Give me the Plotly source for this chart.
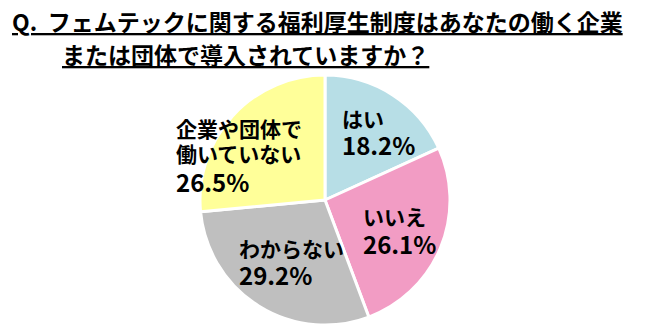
import plotly.graph_objects as go

W, H = 649, 335

categories = ["はい", "いいえ", "わからない", "企業や団体で働いていない"]
label_lines = [["はい"], ["いいえ"], ["わからない"], ["企業や団体で", "働いていない"]]
values = [18.2, 26.1, 29.2, 26.5]
colors = ["#B7DEE6", "#F29CC4", "#BFBFBF", "#FFFF99"]
title_lines = ["Q.  フェムテックに関する福利厚生制度はあなたの働く企業",
               "または団体で導入されていますか？"]

FONT = "Noto Sans CJK JP"

def px(x):
    return x / W

def py(y):
    return 1 - y / H

fig = go.Figure(go.Pie(
    labels=categories,
    values=values,
    sort=False,
    direction="clockwise",
    rotation=0,
    marker=dict(colors=colors, line=dict(color="white", width=3)),
    textinfo="none",
    hoverinfo="label+percent",
    domain=dict(x=[px(200), px(450)], y=[py(325), py(75)]),
    showlegend=False,
))

# label layout: left x, centre y of each line (pixels), last line is the percentage
label_x = [340, 361, 237, 174]
line_y = [[118, 144], [216, 243], [248, 274], [128, 153, 182]]

annotations = []
for lines, val, lx, ys in zip(label_lines, values, label_x, line_y):
    texts = lines + [f"{val:.1f}%"]
    for i, (t, yy) in enumerate(zip(texts, ys)):
        is_pct = i == len(texts) - 1
        annotations.append(dict(
            text=f"<b>{t}</b>",
            x=px(lx), y=py(yy), xref="paper", yref="paper",
            xanchor="left", yanchor="middle", align="left", showarrow=False,
            font=dict(family=FONT, size=24 if is_pct else 21, color="black"),
        ))

title_pos = [(10, 2), (60, 35)]
for t, (tx, ty) in zip(title_lines, title_pos):
    annotations.append(dict(
        text=f"<b>{t}</b>",
        x=px(tx), y=py(ty), xref="paper", yref="paper",
        xanchor="left", yanchor="top", align="left", showarrow=False,
        font=dict(family=FONT, size=23, color="black", lineposition="under"),
    ))

fig.update_layout(
    width=W, height=H,
    margin=dict(l=0, r=0, t=0, b=0),
    paper_bgcolor="white", plot_bgcolor="white",
    annotations=annotations,
)

fig.write_html("out.html")
